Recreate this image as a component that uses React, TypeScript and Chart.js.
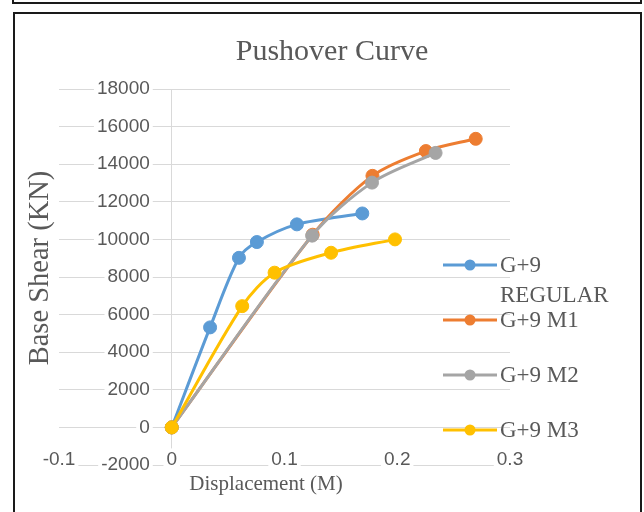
import React, { useEffect, useRef } from 'react';
import { Chart, registerables } from 'chart.js';

Chart.register(...registerables);

// ---- data ----
const chartTitle = 'Pushover Curve';
const xAxisTitle = 'Displacement (M)';
const yAxisTitle = 'Base Shear (KN)';
const seriesNames = ['G+9 REGULAR', 'G+9 M1', 'G+9 M2', 'G+9 M3'];
const seriesColors = ['#5B9BD5', '#ED7D31', '#A5A5A5', '#FFC000'];

const regularDisp = [0, 0.034, 0.0596, 0.0755, 0.111, 0.169];
const regularShear = [0, 5320, 9020, 9860, 10800, 11380];
const m1Disp = [0, 0.125, 0.178, 0.2254, 0.2696];
const m1Shear = [0, 10250, 13380, 14700, 15350];
const m2Disp = [0, 0.1245, 0.1776, 0.234];
const m2Shear = [0, 10200, 13020, 14600];
const m3Disp = [0, 0.0625, 0.0912, 0.1413, 0.198];
const m3Shear = [0, 6450, 8230, 9290, 10000];

const xTicks = [-0.1, 0, 0.1, 0.2, 0.3];
const yTicks = [-2000, 0, 2000, 4000, 6000, 8000, 10000, 12000, 14000, 16000, 18000];

const toPoints = (xs: number[], ys: number[]) => xs.map((x, i) => ({ x, y: ys[i] }));

const TEXT_COLOR = '#595959';
const SERIF = '"Liberation Serif", "Times New Roman", serif';
const SANS = '"Liberation Sans", Arial, sans-serif';

const excelTexts = {
  id: 'excelTexts',
  afterDraw(chart: any) {
    const { ctx } = chart;
    ctx.save();
    ctx.fillStyle = TEXT_COLOR;
    ctx.textAlign = 'center';
    ctx.textBaseline = 'middle';

    // title
    ctx.font = `30px ${SERIF}`;
    ctx.fillText(chartTitle, 332, 52);

    // x axis title
    ctx.font = `21px ${SERIF}`;
    ctx.fillText(xAxisTitle, 266, 484);

    // y axis title
    ctx.save();
    ctx.translate(41, 268);
    ctx.rotate(-Math.PI / 2);
    ctx.font = `28.5px ${SERIF}`;
    ctx.fillText(yAxisTitle, 0, 0);
    ctx.restore();

    // legend
    const rowYs = [265, 320, 375, 430];
    const lineX0 = 443;
    const lineX1 = 497;
    const textX = 500;
    const maxTextW = 128;
    ctx.font = `23px ${SERIF}`;
    chart.data.datasets.forEach((ds: any, i: number) => {
      const y = rowYs[i];
      ctx.strokeStyle = ds.borderColor;
      ctx.lineWidth = 3;
      ctx.beginPath();
      ctx.moveTo(lineX0, y);
      ctx.lineTo(lineX1, y);
      ctx.stroke();
      ctx.fillStyle = ds.borderColor;
      ctx.beginPath();
      ctx.arc((lineX0 + lineX1) / 2, y, 5.5, 0, Math.PI * 2);
      ctx.fill();

      // wrap text
      const words = String(ds.label).split(' ');
      const lines: string[] = [];
      let cur = '';
      words.forEach((w) => {
        const test = cur ? cur + ' ' + w : w;
        if (cur && ctx.measureText(test).width > maxTextW) {
          lines.push(cur);
          cur = w;
        } else {
          cur = test;
        }
      });
      if (cur) lines.push(cur);
      ctx.fillStyle = TEXT_COLOR;
      ctx.textAlign = 'left';
      lines.forEach((ln, k) => ctx.fillText(ln, textX, y + 1 + k * 30));
    });
    ctx.restore();
  },
};

export default function App() {
  const canvasRef = useRef<HTMLCanvasElement | null>(null);

  useEffect(() => {
    const canvas = canvasRef.current;
    if (!canvas) return;
    const allX = [regularDisp, m1Disp, m2Disp, m3Disp];
    const allY = [regularShear, m1Shear, m2Shear, m3Shear];
    const datasets = seriesNames.map((name, i) => ({
      label: name,
      data: toPoints(allX[i], allY[i]),
      borderColor: seriesColors[i],
      backgroundColor: seriesColors[i],
      pointBackgroundColor: seriesColors[i],
      pointBorderColor: seriesColors[i],
      borderWidth: 3,
      pointRadius: 6.5,
      pointBorderWidth: 1,
      tension: 0.3,
      order: 4 - i,
      showLine: true,
      fill: false,
    }));

    const chart = new Chart(canvas, {
      type: 'scatter',
      data: { datasets },
      options: {
        responsive: false,
        maintainAspectRatio: false,
        animation: false,
        devicePixelRatio: 1,
        layout: { padding: { left: 59, right: 134, top: 89, bottom: 47 } },
        plugins: {
          legend: { display: false },
          title: { display: false },
          tooltip: { enabled: false },
        },
        scales: {
          x: {
            type: 'linear',
            min: xTicks[0],
            max: xTicks[xTicks.length - 1],
            position: { y: 0 } as any,
            afterBuildTicks: (axis: any) => {
              axis.ticks = xTicks.map((v) => ({ value: v }));
            },
            border: { display: false },
            grid: {
              drawTicks: false,
              lineWidth: 1,
              color: (c: any) => (c.tick && c.tick.value === 0 ? '#d9d9d9' : 'rgba(0,0,0,0)'),
            },
            ticks: {
              padding: 21,
              color: TEXT_COLOR,
              font: { family: SANS, size: 19 },
              maxRotation: 0,
              autoSkip: false,
              showLabelBackdrop: true,
              backdropColor: '#ffffff',
              backdropPadding: { x: 3, y: 0 },
              callback: (v: any) => String(Number(Number(v).toFixed(1))),
            },
          },
          y: {
            type: 'linear',
            min: yTicks[0],
            max: yTicks[yTicks.length - 1],
            position: { x: -0.0195 } as any,
            afterBuildTicks: (axis: any) => {
              axis.ticks = yTicks.map((v) => ({ value: v }));
            },
            border: { display: false },
            grid: { drawTicks: false, color: '#d9d9d9', lineWidth: 1 },
            ticks: {
              color: TEXT_COLOR,
              font: { family: SANS, size: 19 },
              autoSkip: false,
              showLabelBackdrop: true,
              backdropColor: '#ffffff',
              backdropPadding: { x: 3, y: 0 },
              callback: (v: any) => String(v),
            },
          },
        },
      },
      plugins: [excelTexts],
    });
    return () => chart.destroy();
  }, []);

  return (
    <div
      style={{
        position: 'absolute',
        left: 0,
        top: 0,
        width: 644,
        height: 512,
        overflow: 'hidden',
        background: '#ffffff',
      }}
    >
      <div
        style={{
          position: 'absolute',
          left: 12,
          top: -20,
          width: 630,
          height: 24,
          boxSizing: 'border-box',
          border: '2px solid #1a1a1a',
        }}
      />
      <div
        style={{
          position: 'absolute',
          left: 13,
          top: 12,
          width: 629,
          height: 530,
          boxSizing: 'border-box',
          border: '2px solid #1a1a1a',
        }}
      />
      <canvas
        ref={canvasRef}
        width={644}
        height={512}
        style={{ position: 'absolute', left: 0, top: 0, width: 644, height: 512 }}
      />
    </div>
  );
}
